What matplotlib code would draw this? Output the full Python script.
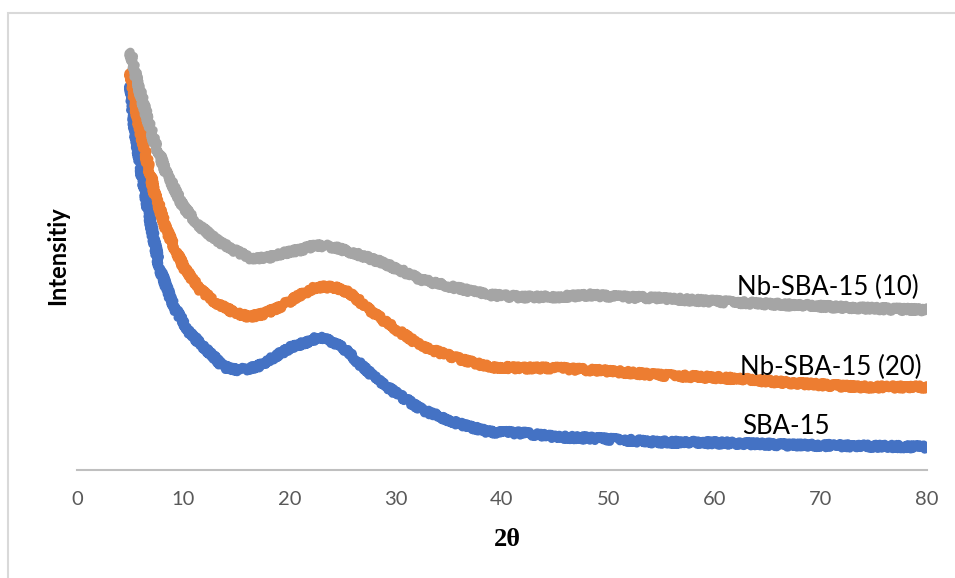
import matplotlib
matplotlib.use("Agg")
import matplotlib.pyplot as plt
from matplotlib.patches import Rectangle

# XRD patterns, 2theta in degrees, intensity in arbitrary units
two_theta_sba = [5.0, 5.3, 5.9, 6.9, 7.8, 9.1, 10.6, 12.2, 13.8, 15.3, 16.9, 18.4, 20.0,
                 21.6, 22.8, 24.1, 25.3, 26.9, 28.5, 30.0, 32.5, 35.7, 38.8, 41.9, 45.1,
                 48.2, 51.3, 54.5, 61.1, 67.3, 73.6, 80.0]
int_sba = [385, 350, 307, 247, 200, 163, 137, 120, 103, 100, 103, 112, 122,
           128, 133, 128, 120, 103, 88, 77, 60, 47, 38, 37, 33,
           32, 30, 28, 27, 25, 24, 23]

two_theta_nb20 = [5.0, 5.6, 6.2, 7.2, 8.4, 10.0, 11.6, 13.1, 14.7, 16.3, 17.8, 19.4, 21.0,
                  22.5, 24.1, 25.7, 27.2, 28.8, 30.4, 32.5, 35.7, 38.8, 41.9, 45.1, 48.2,
                  51.3, 54.5, 61.1, 67.3, 73.6, 80.0]
int_nb20 = [398, 357, 327, 280, 240, 203, 180, 167, 158, 153, 157, 165, 175,
            183, 183, 177, 163, 150, 138, 123, 112, 103, 102, 102, 100,
            98, 95, 92, 87, 83, 83]

two_theta_nb10 = [5.0, 5.6, 6.2, 7.2, 8.4, 10.0, 11.6, 13.1, 14.7, 16.3, 17.8, 19.4, 21.0,
                  22.5, 24.1, 25.7, 27.2, 28.8, 30.4, 32.5, 35.7, 38.8, 41.9, 45.1, 48.2,
                  51.3, 54.5, 61.1, 67.3, 73.6, 80.0]
int_nb10 = [418, 390, 367, 330, 297, 263, 243, 230, 220, 212, 212, 217, 220,
            225, 223, 218, 213, 207, 200, 190, 182, 175, 173, 173, 175,
            173, 172, 168, 165, 162, 160]

names = ["SBA-15", "Nb-SBA-15 (20)", "Nb-SBA-15 (10)"]
colors = ["#4472C4", "#ED7D31", "#A5A5A5"]

fig = plt.figure(figsize=(9.55, 5.78), dpi=100)
ax = fig.add_axes([77.3 / 955, 1 - 470 / 578, (926.7 - 77.3) / 955, 440 / 578])

series = [(two_theta_sba, int_sba), (two_theta_nb20, int_nb20), (two_theta_nb10, int_nb10)]
for (x, y), c in zip(series, colors):
    ln, = ax.plot(x, y, color=c, lw=6.3, solid_capstyle="round", solid_joinstyle="round")
    ln.set_sketch_params(scale=2.4, length=2.5, randomness=3)

# curve labels at the right end
label_pos = [(62.6, 43), (62.4, 103), (62.1, 183)]
for name, (lx, ly) in zip(names, label_pos):
    ax.text(lx, ly, name, fontsize=18.5, family="Lato", color="black", ha="left", va="center")

ax.set_xlim(0, 80)
ax.set_ylim(0, 440)
ax.set_xticks(range(0, 81, 10))
ax.set_yticks([])
ax.tick_params(axis="x", length=0, pad=15, labelsize=14.5, labelcolor="#595959")
for lab in ax.get_xticklabels():
    lab.set_family("Lato")
for s in ["top", "right", "left"]:
    ax.spines[s].set_visible(False)
ax.spines["bottom"].set_color("#BFBFBF")
ax.spines["bottom"].set_linewidth(1.5)

fig.text(507 / 955, 1 - 539 / 578, "2θ", fontsize=19, fontweight="bold",
         family=["Liberation Serif", "DejaVu Serif"], ha="center", va="center")
fig.text(58 / 955, 1 - 256 / 578, "Intensitiy", fontsize=17, fontweight="bold",
         family="Lato", rotation=90, ha="center", va="center")

# chart area border
fig.add_artist(Rectangle((7.5 / 955, -0.2), 2, 1.2 - 12.5 / 578, transform=fig.transFigure,
                         fill=False, edgecolor="#D9D9D9", lw=1.5))

fig.savefig("out.png", dpi=100)
